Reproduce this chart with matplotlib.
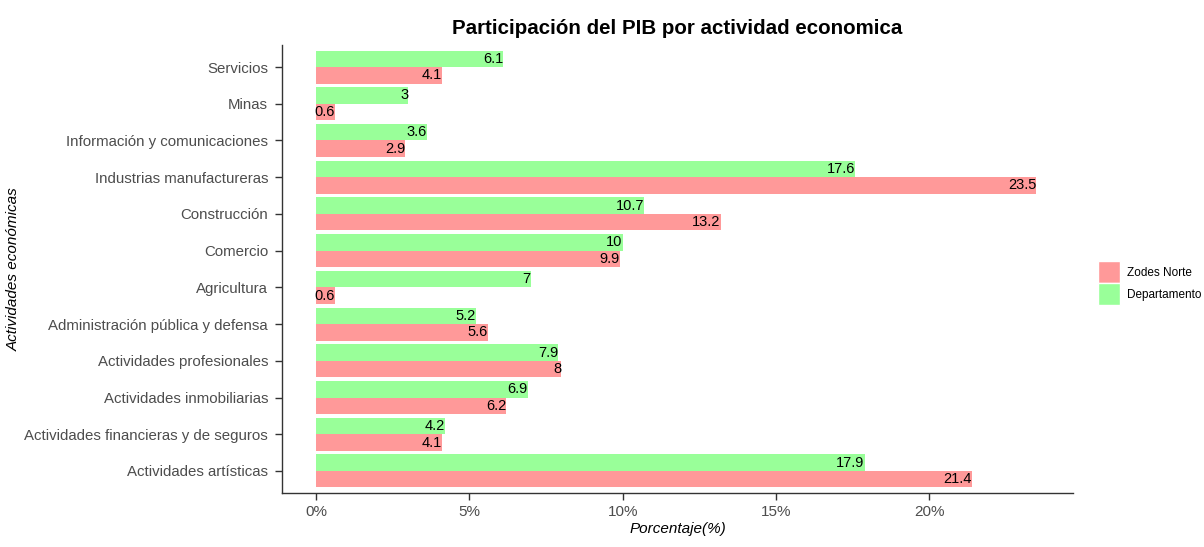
import matplotlib
matplotlib.use("Agg")
import matplotlib.pyplot as plt
import numpy as np
from matplotlib.patches import Patch

categories = ["Servicios", "Minas", "Información y comunicaciones",
              "Industrias manufactureras", "Construcción", "Comercio",
              "Agricultura", "Administración pública y defensa",
              "Actividades profesionales", "Actividades inmobiliarias",
              "Actividades financieras y de seguros", "Actividades artísticas"]
zodes_norte = [4.1, 0.6, 2.9, 23.5, 13.2, 9.9, 0.6, 5.6, 8, 6.2, 4.1, 21.4]
departamento = [6.1, 3, 3.6, 17.6, 10.7, 10, 7, 5.2, 7.9, 6.9, 4.2, 17.9]
xticks = [0, 5, 10, 15, 20]
xticklabels = ["0%", "5%", "10%", "15%", "20%"]

plt.rcParams['font.family'] = ['Liberation Sans', 'DejaVu Sans']
fig = plt.figure(figsize=(12.04, 5.47), dpi=100)
ax = fig.add_axes([282/1204, 1-493/547, (1073-282)/1204, (493-45)/547])

red = "#FF9999"
green = "#99FF99"
n = len(categories)
y = np.arange(n)[::-1] + 1  # Servicios at top
h = 0.45
ax.barh(y + h/2, departamento, height=h, color=green)
ax.barh(y - h/2, zodes_norte, height=h, color=red)
for yi, v in zip(y, departamento):
    ax.text(v, yi + h/2, f"{v:g}", ha="right", va="center", fontsize=10.5, color="black")
for yi, v in zip(y, zodes_norte):
    ax.text(v, yi - h/2, f"{v:g}", ha="right", va="center", fontsize=10.5, color="black")

ax.set_xlim(-1.12, 24.7)
ax.set_ylim(0.4, 12.6)
ax.set_yticks(y)
ax.set_yticklabels(categories, fontsize=10.8, color="#4d4d4d")
ax.set_xticks(xticks)
ax.set_xticklabels(xticklabels, fontsize=11, color="#4d4d4d")
for s in ["top", "right"]:
    ax.spines[s].set_visible(False)
for s in ["left", "bottom"]:
    ax.spines[s].set_color("#333333")
    ax.spines[s].set_linewidth(1.0)
ax.tick_params(axis="both", length=5, color="#333333", width=1)
ax.tick_params(axis="y", pad=5)
ax.set_xlabel("Porcentaje(%)", fontsize=11, style="italic", labelpad=2)
ax.set_ylabel("Actividades económicas", fontsize=11, style="italic")
ax.yaxis.set_label_coords(-(282-21)/791, 0.5)
ax.set_title("Participación del PIB por actividad economica", fontsize=14.8,
             fontweight="bold", pad=8)

handles = [Patch(facecolor=red, edgecolor="white", label="Zodes Norte"),
           Patch(facecolor=green, edgecolor="white", label="Departamento")]
fig.legend(handles=handles, loc="center left", bbox_to_anchor=(1090/1204, 1-283/547),
           frameon=False, fontsize=8.5, handlelength=1.8, handleheight=2.4,
           handletextpad=0.6, labelspacing=0.05, borderpad=0.2)

fig.savefig("out.png", dpi=100)
